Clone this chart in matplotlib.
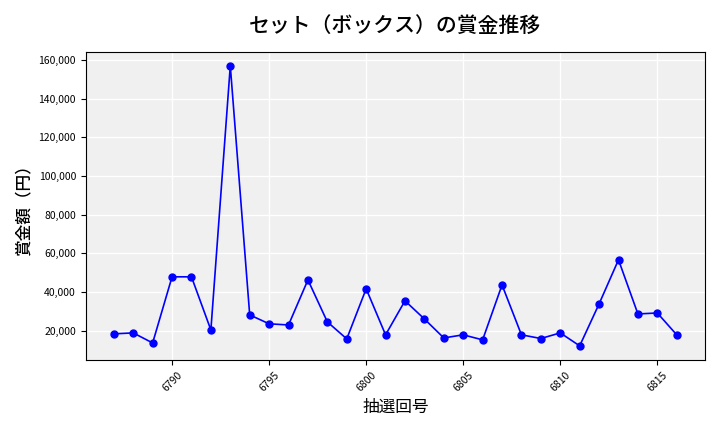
import matplotlib
matplotlib.use('Agg')
import matplotlib.pyplot as plt
from matplotlib.ticker import FuncFormatter

plt.rcParams['font.family'] = ['Noto Sans CJK JP', 'DejaVu Sans']

# 抽選回号と賞金額
draws = list(range(6787, 6817))
prizes = [18300, 18800, 13600, 47800, 47800, 20300, 156900, 28100, 23500, 22900,
          46200, 24500, 15700, 41600, 17800, 35400, 26000, 16200, 17800, 15200,
          43600, 17800, 15900, 18800, 12100, 33800, 56600, 28600, 29100, 17800]

fig, ax = plt.subplots(figsize=(7.2, 4.32), dpi=100)
ax.set_facecolor('#f0f0f0')
ax.grid(True, color='white', linewidth=1)
ax.set_axisbelow(True)

ax.plot(draws, prizes, color='blue', marker='o', markersize=5, linewidth=1.2)

ax.set_title('セット（ボックス）の賞金推移', fontsize=15, fontweight='medium', pad=14)
ax.set_xlabel('抽選回号', fontsize=12)
ax.set_ylabel('賞金額（円）', fontsize=12, fontweight='medium')
ax.yaxis.set_major_formatter(FuncFormatter(lambda v, p: f'{int(v):,}'))
ax.tick_params(axis='both', labelsize=7.5)
plt.setp(ax.get_xticklabels(), rotation=45)

fig.subplots_adjust(left=0.119, right=0.979, top=0.880, bottom=0.167)
plt.savefig('out.png')
